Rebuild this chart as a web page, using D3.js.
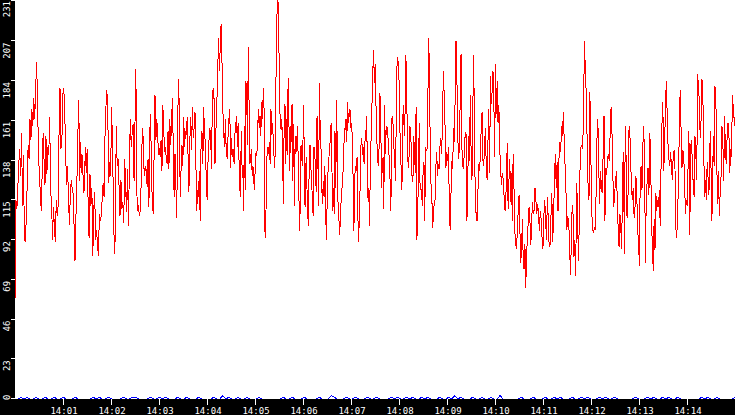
<!DOCTYPE html>
<html>
<head>
<meta charset="utf-8">
<script src="https://cdn.jsdelivr.net/npm/d3@7"></script>
<style>
  html, body { margin: 0; padding: 0; background: #fff; overflow: hidden; }
  svg { display: block; }
</style>
</head>
<body>
<svg id="chart" width="735" height="415"></svg>
<script>
// Axis labels
const yTicks = [0, 23, 46, 69, 92, 115, 138, 161, 184, 207, 231];
const xTicks = ['14:01', '14:02', '14:03', '14:04', '14:05', '14:06', '14:07',
  '14:08', '14:09', '14:10', '14:11', '14:12', '14:13', '14:14'];

const chunkStarts = ['14:00:00', '14:02:30', '14:04:35', '14:06:40', '14:08:45', '14:10:50', '14:12:55', '14:15:00'];

const red1 = [57,115,110,122,136,145,129,154,112,141,93,91,104,124,147,139,162,150,168,158,174,162,179,195,175,143,130,119,109,132,
  154,138,124,152,130,146,141,163,119,115,92,111,100,91,115,106,112,155,180,145,149,176,180,168,142,124,135,118,101,118,
  127,122,119,100,80,106,125,152,173,126,149,131,141,120,121,146,131,145,113,93,130,112,122,83,109,120,92,98,89,83,
  107,103,106,116,125,117,152,169,179,164,125,137,129,169,148,112,84,94,158,135,139,123,106,127,110,114,102,139,123,108,
  133,100,135,162,146,154,159,126];
const red2 = [160,191,121,109,112,106,109,123,147,157,136,129,135,132,123,139,111,155,165,127,114,107,143,176,150,162,155,141,145,140,
  150,132,170,157,143,146,139,136,155,133,162,147,160,174,146,117,142,124,105,156,185,167,117,133,147,135,163,146,155,153,
  163,141,120,148,163,144,169,151,157,166,137,109,121,117,132,103,148,155,136,169,152,149,124,115,138,149,157,152,133,176,
  180,173,136,154,170,186,209,190,203,217,196,168,154,146,162,141,140,152,162,168,134,151,140,145,136];
const red3 = [154,159,164,146,160,141,123,117,155,135,134,109,158,121,184,175,147,204,171,136,139,145,129,135,126,121,136,143,141,156,
  168,157,164,152,172,162,175,180,99,93,117,141,146,142,149,136,168,153,160,150,140,134,164,209,227,231,213,175,159,156,
  162,137,113,165,171,136,162,141,186,162,132,158,149,171,126,159,112,152,142,149,158,136,113,97,146,147,135,149,170,115,
  111,140,124,108,100,138,147,135,126,117,106,146,145,130,120,164,140,112,183,157,147,123,113,126,117,135,110,92,115,131,
  137,147,149,160,136,109,122,107];
const red4 = [155,122,173,141,108,104,95,107,117,123,129,141,157,156,162,149,172,160,164,168,157,160,151,127,97,128,135,132,140,107,
  91,107,124,147,151,141,146,136,149,151,164,141,114,122,100,144,151,171,189,202,183,194,171,152,140,135,146,177,169,122,
  134,140,110,170,142,156,158,152,149,136,126,109,162,164,157,144,136,126,178,198,196,191,170,142,134,121,162,170,152,166,
  199,180,147,134,140,158,156,142,126,127,152,142,131,169,92,107,131,160,124,122,119,112,135,137,103,146,144,145,176,209,
  187,143,123,117,99,106,114];
const red5 = [115,134,143,129,136,133,147,151,142,165,190,175,157,134,143,138,146,114,98,118,138,133,157,149,175,207,188,154,139,145,
  174,200,146,135,133,145,154,153,103,128,152,138,176,142,127,168,199,155,112,107,103,118,136,132,141,158,166,138,135,147,
  157,134,127,148,168,131,187,171,178,190,174,140,194,165,184,160,170,146,134,124,131,128,119,110,109,130,148,110,126,139,
  114,131,103,142,122,97,90,87,97,109,118,99,79,87,104,80,75,90,64,87,90,105,111,103,89,102,114,107,109];
const red6 = [122,115,107,113,107,97,109,104,93,87,106,115,104,92,117,104,88,89,105,119,91,105,129,142,122,137,109,138,149,143,
  158,152,166,150,135,120,98,106,102,92,72,88,112,107,82,92,71,125,113,80,100,138,146,147,145,176,207,186,177,147,
  123,115,178,146,110,99,96,99,98,118,150,162,136,113,132,123,119,142,164,103,134,130,140,141,138,155,169,154,129,111,
  119,126,132,115,98,88,107,98,87,132,143,84,158,138,105,113,155,158,140,123,115,122,105];
const red7 = [111,129,121,96,94,77,128,135,121,146,158,137,79,119,126,134,118,154,140,101,89,74,104,86,119,109,115,111,121,100,
  136,159,172,132,145,169,184,165,147,139,135,143,133,127,142,144,133,99,93,109,123,160,179,156,134,144,142,126,107,115,
  112,134,155,95,146,150,135,124,117,152,141,127,188,181,172,151,162,185,178,145,117,127,115,137,128,118,146,155,103,110,
  152,135,181,174,137,113,132,106,120,129,158,150,126,164,143,136,153,160,154,131,145,140,176,169,162,158];
const redChunks = [red1, red2, red3, red4, red5, red6, red7];

// Blue series, evenly spaced over 14:00 - 14:15 (mostly zero, small blips)
const blue = [0,0,1,0,1,0,0,1,0,0, 1,0,0,1,0,0,1,0,0,0, 1,0,0,0,0,0,1,0,1,0, 0,1,0,0,0,0,1,0,0,1,
  1,0,0,0,0,1,0,0,1,0, 1,0,0,0,1,0,0,1,0,0, 0,1,0,0,0,0,1,0,0,2, 0,1,0,0,1,0,0,1,0,0,
  0,1,0,0,0,0,0,0,0,1, 0,0,1,0,0,0,1,0,0,0, 0,1,0,0,0,2,1,0,0,0, 1,0,0,1,0,0,0,1,0,0,
  1,0,0,0,0,1,0,1,0,0, 1,0,1,0,0,1,0,1,0,0, 0,1,0,0,1,0,2,0,1,0, 0,0,1,0,0,1,0,0,1,0,
  0,2,0,0,0,0,0,0,1,0, 0,0,1,0,0,0,1,0,0,1, 0,1,0,0,0,1,0,0,1,0, 1,0,0,0,1,0,1,0,0,1,
  0,0,0,0,0,0,1,0,0,0, 1,0,1,0,0,1,0,1,0,0, 1,0,0,0,0,0,0,0,1,0, 1,0,0,1,0,0,0,0,0,1];

const W = 735, H = 415, left = 15, bottom = 399;
const parseSec = d3.timeParse('%H:%M:%S');
const parseMin = d3.timeParse('%H:%M');
const starts = chunkStarts.map(parseSec);

const x = d3.scaleTime()
  .domain([starts[0], starts[starts.length - 1]])
  .range([left, W]);
const y = d3.scaleLinear()
  .domain([0, 231])
  .range([bottom, 0]);

// Spread each chunk over its own time span
const redData = [];
redChunks.forEach((vals, k) => {
  const t0 = +starts[k], t1 = +starts[k + 1];
  const last = k === redChunks.length - 1;
  const n = last ? vals.length - 1 : vals.length;
  vals.forEach((v, i) => redData.push({ t: new Date(t0 + (t1 - t0) * i / n), v }));
});

const t0 = +starts[0], t1 = +starts[starts.length - 1];
const blueData = blue.map((v, i) => ({ t: new Date(t0 + (t1 - t0) * i / (blue.length - 1)), v }));

const svg = d3.select('#chart');
svg.append('rect').attr('width', W).attr('height', H).attr('fill', '#fff');

const line = d3.line()
  .x(d => x(d.t))
  .y(d => y(d.v));

svg.append('path')
  .datum(blueData)
  .attr('fill', 'none')
  .attr('stroke', '#0000ff')
  .attr('stroke-width', 1)
  .attr('shape-rendering', 'crispEdges')
  .attr('d', line);

svg.append('path')
  .datum(redData)
  .attr('fill', 'none')
  .attr('stroke', '#ff0000')
  .attr('stroke-width', 1)
  .attr('shape-rendering', 'crispEdges')
  .attr('d', line);

// Black axis strips
svg.append('rect').attr('x', 0).attr('y', 0).attr('width', left).attr('height', H).attr('fill', '#000');
svg.append('rect').attr('x', 0).attr('y', bottom).attr('width', W).attr('height', H - bottom).attr('fill', '#000');

// Y axis
const yAxis = svg.append('g')
  .attr('fill', '#fff')
  .attr('font-family', '"DejaVu Sans Mono", monospace')
  .attr('font-size', 9);

yAxis.selectAll('line')
  .data(yTicks)
  .join('line')
  .attr('x1', 11).attr('x2', left)
  .attr('y1', d => Math.max(0.5, Math.round(y(d)) - 0.5))
  .attr('y2', d => Math.max(0.5, Math.round(y(d)) - 0.5))
  .attr('stroke', '#fff')
  .attr('shape-rendering', 'crispEdges');

yAxis.selectAll('text')
  .data(yTicks)
  .join('text')
  .attr('transform', d => d === 0
    ? `translate(9.5,${bottom + 1}) rotate(-90)`
    : `translate(9.5,${y(d) + 1}) rotate(-90)`)
  .attr('text-anchor', d => d === 0 ? 'start' : 'end')
  .text(d => d);

// X axis
const xAxis = svg.append('g')
  .attr('fill', '#fff')
  .attr('font-family', '"DejaVu Sans Mono", monospace')
  .attr('font-size', 9)
  .attr('text-anchor', 'middle');

xAxis.selectAll('line')
  .data(xTicks)
  .join('line')
  .attr('x1', d => Math.round(x(parseMin(d))) + 0.5)
  .attr('x2', d => Math.round(x(parseMin(d))) + 0.5)
  .attr('y1', bottom).attr('y2', bottom + 6)
  .attr('stroke', '#fff')
  .attr('shape-rendering', 'crispEdges');

xAxis.selectAll('text')
  .data(xTicks)
  .join('text')
  .attr('x', d => x(parseMin(d)) + 1)
  .attr('y', 413.5)
  .text(d => d);
</script>
</body>
</html>
